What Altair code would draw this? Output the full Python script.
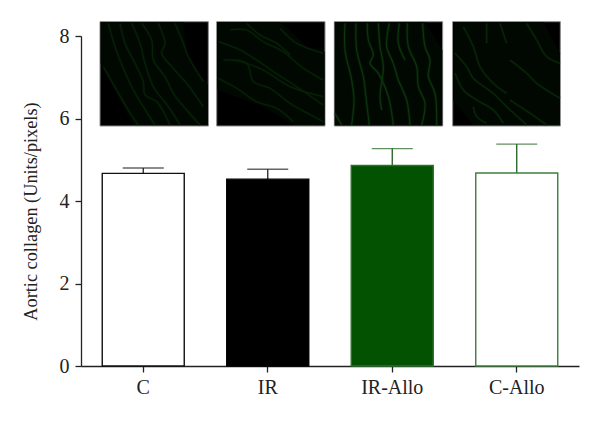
import altair as alt
import pandas as pd

categories = ["C", "IR", "IR-Allo", "C-Allo"]
means = [4.67, 4.53, 4.86, 4.68]
err_tops = [4.80, 4.77, 5.27, 5.38]
fills = ["#ffffff", "#000000", "#025202", "#ffffff"]
strokes = ["#111111", "#000000", "#2f6f2f", "#3f7d3f"]
err_colors = ["#222222", "#222222", "#1c5f1c", "#1c5f1c"]

# Micrograph insets, as (crop x offset, left, right)
panel_offsets = [90, 90, 330, 330]
panel_left = [30, 380, 13, 368]
panel_right = [355, 705, 338, 691]
panel_top = 35
panel_bottom = 348
strand_colors = ["#082008", "#082008", "#0d340d", "#092609"]

tissue = [
    [(32, 36, 160), (130, 36, 345), (280, 36, 345), (290, 140, 345), (354, 225, 345)],
    [(381, 36, 240), (520, 36, 290), (570, 36, 320), (610, 70, 345), (650, 110, 345), (704, 125, 345)],
    [(14, 36, 346), (285, 36, 346), (337, 120, 346)],
    [(369, 36, 270), (430, 36, 345), (640, 36, 345), (690, 130, 345)],
]

strands = [
    [
        [(55, 40), (75, 110), (100, 175), (130, 240), (160, 290), (195, 345)],
        [(90, 40), (105, 100), (135, 160), (160, 215), (165, 255), (200, 275), (240, 345)],
        [(125, 40), (150, 100), (165, 160), (190, 230), (235, 290), (270, 345)],
        [(155, 40), (185, 90), (190, 150), (225, 200), (250, 250), (290, 300), (330, 345)],
        [(205, 40), (225, 100), (215, 130), (245, 170), (290, 220), (340, 290)],
        [(255, 40), (280, 100), (295, 140), (340, 215)],
        [(40, 170), (80, 240), (115, 300), (145, 345)],
    ],
    [
        [(385, 95), (450, 120), (500, 150), (550, 185), (620, 230), (700, 285)],
        [(385, 205), (440, 235), (500, 275), (560, 295), (610, 335)],
        [(420, 60), (470, 60), (520, 95), (580, 125), (640, 175), (700, 210)],
        [(470, 40), (510, 75), (560, 100), (600, 135)],
        [(400, 150), (470, 160), (490, 215), (540, 235), (600, 280), (700, 335)],
        [(570, 55), (620, 100), (700, 130)],
        [(440, 150), (520, 180), (600, 230), (700, 260)],
    ],
    [
        [(45, 40), (45, 120), (65, 210), (72, 270), (65, 345)],
        [(78, 40), (80, 120), (100, 200), (110, 280), (118, 345)],
        [(112, 40), (115, 90), (130, 135), (120, 160), (145, 190), (175, 260), (190, 345)],
        [(145, 40), (150, 110), (160, 170), (150, 260), (155, 300)],
        [(178, 40), (170, 110), (190, 160), (205, 210), (230, 270), (240, 345)],
        [(208, 40), (205, 100), (225, 150)],
        [(232, 40), (235, 110), (260, 170), (265, 230), (285, 280), (275, 345)],
        [(278, 40), (285, 110), (300, 150), (295, 200), (315, 250), (320, 345)],
        [(15, 310), (35, 345)],
    ],
    [
        [(400, 50), (430, 110), (450, 170), (490, 220), (530, 250)],
        [(375, 130), (410, 170), (430, 205), (490, 250), (530, 290), (590, 345)],
        [(375, 190), (400, 240), (440, 270), (490, 300), (520, 340)],
        [(510, 40), (530, 100)],
        [(590, 40), (620, 90), (650, 140), (690, 160)],
        [(540, 150), (590, 190), (620, 220), (690, 265)],
        [(470, 40), (470, 100)],
        [(540, 270), (600, 310), (650, 345)],
        [(430, 290), (440, 320), (470, 340)],
    ],
]

FONT = "Liberation Serif"
TEXT = "#222222"

bars_df = pd.DataFrame({"cat": categories, "mean": means, "top": err_tops,
                        "fill": fills, "stroke": strokes, "err": err_colors})

x_enc = alt.X("cat:N", sort=categories, title=None,
              scale=alt.Scale(paddingInner=0, paddingOuter=0),
              axis=alt.Axis(labelAngle=0, labelFont=FONT, labelFontSize=20, labelColor=TEXT,
                            labelPadding=5, tickSize=6, tickWidth=1.3, tickColor=TEXT,
                            domainColor=TEXT, domainWidth=1.3, grid=False))
y_enc = alt.Y("mean:Q", title="Aortic collagen (Units/pixels)",
              scale=alt.Scale(domain=[0, 8], nice=False),
              axis=alt.Axis(values=[0, 2, 4, 6, 8], format="d", labelFont=FONT, labelFontSize=20,
                            labelColor=TEXT, labelPadding=6, tickSize=6, tickWidth=1.3,
                            tickColor=TEXT, domainColor=TEXT, domainWidth=1.3, grid=False,
                            titleFont=FONT, titleFontSize=18.3, titleFontWeight="normal",
                            titleColor=TEXT, titleX=-41, titleY=175))

rules = alt.Chart(bars_df).mark_rule(strokeWidth=1.3).encode(
    x=x_enc, y=y_enc, y2="top:Q", color=alt.Color("err:N", scale=None))
caps = alt.Chart(bars_df).mark_tick(orient="horizontal", size=41, thickness=1.3).encode(
    x=x_enc, y=alt.Y("top:Q"), color=alt.Color("err:N", scale=None))
bars = alt.Chart(bars_df).mark_bar(size=82, strokeWidth=1.4).encode(
    x=x_enc, y=y_enc,
    fill=alt.Fill("fill:N", scale=None),
    stroke=alt.Stroke("stroke:N", scale=None))

# Inset tables, in the picture's own pixel units
def px(off, zx):
    return off + zx / 3

def py(zy):
    return 10 + zy / 3

rect_rows, area_rows, line_rows = [], [], []
for i, off in enumerate(panel_offsets):
    rect_rows.append({"x": px(off, panel_left[i]), "x2": px(off, panel_right[i]),
                      "y": py(panel_top), "y2": py(panel_bottom)})
    for zx, zt, zb in tissue[i]:
        area_rows.append({"panel": i, "x": px(off, zx), "y": py(zt), "y2": py(zb)})
    for j, s in enumerate(strands[i]):
        for k, (zx, zy) in enumerate(s):
            line_rows.append({"id": f"{i}-{j}", "o": k, "x": px(off, zx), "y": py(zy),
                              "c": strand_colors[i]})

rect_df = pd.DataFrame(rect_rows)
area_df = pd.DataFrame(area_rows)
line_df = pd.DataFrame(line_rows)

tx = alt.Scale(domain=[81, 579], nice=False, zero=False)
ty = alt.Scale(domain=[366, 36], nice=False, zero=False)

rect = alt.Chart(rect_df).mark_rect(fill="#000000", stroke="#8c8c8c", strokeWidth=1).encode(
    x=alt.X("x:Q", scale=tx, axis=None), x2="x2:Q",
    y=alt.Y("y:Q", scale=ty, axis=None), y2="y2:Q")
area = alt.Chart(area_df).mark_area(color="#010801").encode(
    x=alt.X("x:Q", scale=tx, axis=None),
    y=alt.Y("y:Q", scale=ty, axis=None), y2="y2:Q",
    detail="panel:N")
glow = alt.Chart(line_df).mark_line(strokeWidth=3, opacity=0.3, interpolate="catmull-rom").encode(
    x=alt.X("x:Q", scale=tx, axis=None),
    y=alt.Y("y:Q", scale=ty, axis=None),
    order="o:Q", detail="id:N", color=alt.Color("c:N", scale=None))
core = alt.Chart(line_df).mark_line(strokeWidth=1.2, interpolate="catmull-rom").encode(
    x=alt.X("x:Q", scale=tx, axis=None),
    y=alt.Y("y:Q", scale=ty, axis=None),
    order="o:Q", detail="id:N", color=alt.Color("c:N", scale=None))

main = alt.layer(rules, caps, bars)
insets = alt.layer(rect, area, glow, core)

chart = alt.layer(main, insets).resolve_scale(x="independent", y="independent").properties(
    width=498, height=330,
    autosize=alt.AutoSizeParams(type="none"),
    padding={"left": 73, "top": 28, "right": 10, "bottom": 40},
    background="#ffffff",
).configure_view(stroke=None)

chart.save("out.html", embed_options={"renderer": "svg", "actions": False})
